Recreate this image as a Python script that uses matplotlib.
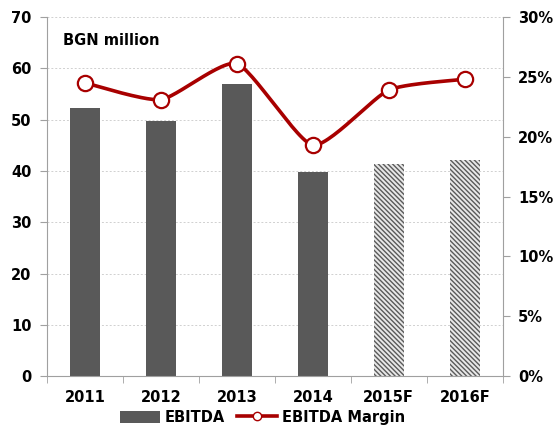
import numpy as np
import matplotlib
matplotlib.use("Agg")
from matplotlib import pyplot as plt
from matplotlib.patches import Patch
from matplotlib.lines import Line2D

plt.rcParams['font.family'] = ['DejaVu Sans']
plt.rcParams['font.weight'] = 'bold'
plt.rcParams['hatch.linewidth'] = 1.0

years = ['2011', '2012', '2013', '2014', '2015F', '2016F']
ebitda = [52.3, 49.7, 56.9, 39.8, 41.3, 42.1]
margin = [24.5, 23.1, 26.1, 19.3, 23.9, 24.8]
forecast = [False, False, False, False, True, True]

BAR = '#595959'
RED = '#A80000'


def smooth(x, y, n=30, k=0.3):
    # cardinal spline through the points, like excel's smoothed line
    x = np.asarray(x, float)
    y = np.asarray(y, float)
    px = np.concatenate([[x[0]], x, [x[-1]]])
    py = np.concatenate([[y[0]], y, [y[-1]]])
    xs, ys = [], []
    for i in range(1, len(px) - 2):
        p0, p1, p2, p3 = [np.array([px[j], py[j]]) for j in range(i - 1, i + 3)]
        m1 = (p2 - p0) * k
        m2 = (p3 - p1) * k
        s = np.linspace(0, 1, n)
        h00 = 2 * s**3 - 3 * s**2 + 1
        h10 = s**3 - 2 * s**2 + s
        h01 = -2 * s**3 + 3 * s**2
        h11 = s**3 - s**2
        pts = (np.outer(h00, p1) + np.outer(h10, m1) + np.outer(h01, p2) + np.outer(h11, m2))
        xs.extend(pts[:, 0])
        ys.extend(pts[:, 1])
    return np.array(xs), np.array(ys)


fig = plt.figure(figsize=(5.58, 4.25), dpi=100)
ax = fig.add_axes([0.084, 0.115, 0.817, 0.845])
x = np.arange(len(years))

for xi, v, f in zip(x, ebitda, forecast):
    if f:
        ax.bar(xi, v, width=0.4, color='#e8e8e8', edgecolor='#5a5a5a', hatch='\\' * 7,
               linewidth=0, zorder=2)
    else:
        ax.bar(xi, v, width=0.4, color=BAR, zorder=2)

ax.set_xlim(-0.5, len(years) - 0.5)
ax.set_ylim(0, 70)
ax.set_yticks(range(0, 71, 10))
ax.yaxis.grid(True, color='#d0d0d0', linestyle=(0, (2, 2)), linewidth=0.7)
ax.set_axisbelow(True)
ax.set_xticks(x)
ax.set_xticklabels(years)
ax.set_xticks(np.arange(-0.5, len(years)), minor=True)
ax.tick_params(axis='x', which='major', length=0, pad=10, labelsize=10.5)
ax.tick_params(axis='x', which='minor', length=5, color='#a0a0a0')
ax.tick_params(axis='y', length=5, color='#a0a0a0', labelsize=10.5, pad=6)
for s in ['top', 'right']:
    ax.spines[s].set_visible(False)
for s in ['left', 'bottom']:
    ax.spines[s].set_color('#a0a0a0')

ax2 = ax.twinx()
ax2.set_ylim(0, 30)
ax2.set_yticks(range(0, 31, 5))
ax2.set_yticklabels([f'{v}%' for v in range(0, 31, 5)])
ax2.tick_params(axis='y', length=5, color='#a0a0a0', labelsize=10.5, pad=6)
for s in ['top', 'left', 'bottom']:
    ax2.spines[s].set_visible(False)
ax2.spines['right'].set_color('#a0a0a0')

sx, sy = smooth(x, margin)
ax2.plot(sx, sy, color=RED, linewidth=2.6, zorder=3, solid_capstyle='round')
ax2.plot(x, margin, linestyle='none', marker='o', markersize=11, markerfacecolor='white',
         markeredgecolor=RED, markeredgewidth=1.6, zorder=4)

ax.text(0.035, 0.955, 'BGN million', transform=ax.transAxes, fontsize=10.5,
        fontweight='bold', va='top', ha='left')

handles = [Patch(facecolor=BAR, edgecolor='none'),
           Line2D([0], [0], color=RED, linewidth=2.6, marker='o', markersize=6,
                  markerfacecolor='white', markeredgecolor=RED)]
fig.legend(handles, ['EBITDA', 'EBITDA Margin'], loc='lower center',
           bbox_to_anchor=(0.47, -0.03), ncol=2, frameon=False, fontsize=10.5,
           handlelength=2.8, handleheight=0.9, columnspacing=0.8, handletextpad=0.3)

fig.savefig('out.png', dpi=100)
